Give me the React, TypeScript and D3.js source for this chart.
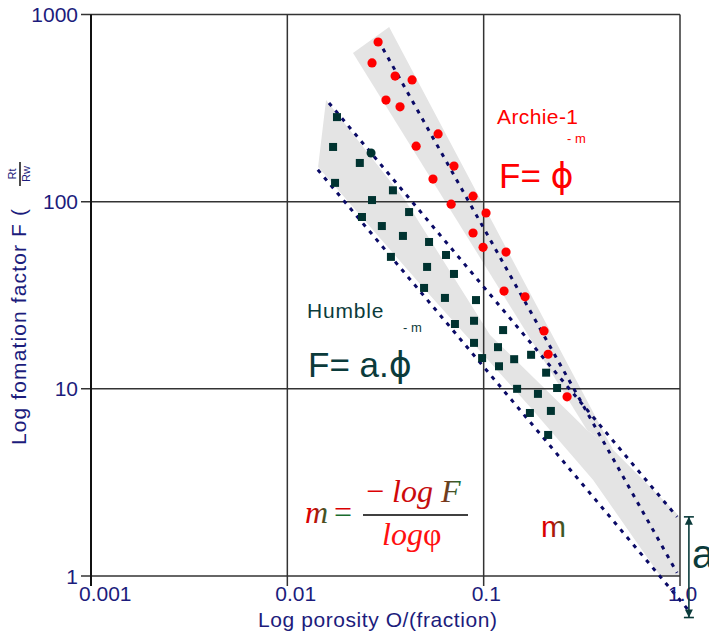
import React from 'react';
import * as d3 from 'd3';

// axis ticks
const xTicks = [0.001, 0.01, 0.1, 1];
const xTickLabels = ['0.001', '0.01', '0.1', '1.0'];
const yTicks = [1, 10, 100, 1000];
const yTickLabels = ['1', '10', '100', '1000'];

// Archie-1 samples (porosity fraction, formation factor)
const archiePhi = [0.029, 0.027, 0.0354, 0.0432, 0.0318, 0.0375, 0.0453, 0.0586, 0.0552, 0.0706, 0.0683,
  0.0883, 0.1028, 0.0883, 0.0993, 0.13, 0.127, 0.1625, 0.203, 0.213, 0.266];
const archieF = [713, 551, 469, 447, 349, 321, 198, 230, 132, 155, 97,
  107, 87, 68, 57, 53.8, 33.3, 31, 20.4, 15.3, 9.06];

// Humble samples
const humblePhi = [0.0179, 0.0171, 0.0234, 0.0175, 0.0345, 0.027, 0.0417, 0.024, 0.0303, 0.0388, 0.0527,
  0.0643, 0.0337, 0.0515, 0.0706, 0.0497, 0.0635, 0.0914, 0.0714, 0.0893, 0.0893, 0.1256, 0.1183,
  0.0982, 0.143, 0.1197, 0.1744, 0.208, 0.2366, 0.148, 0.189, 0.22, 0.172, 0.213];
const humbleF = [283, 196, 161, 126, 115, 102, 88, 82.8, 74.1, 65.6, 60.9,
  51.9, 50.7, 44.8, 41.1, 34.6, 30.6, 29.8, 22.2, 23.1, 17.6, 20.6, 16.7,
  14.6, 14.4, 13.2, 15.2, 12.2, 10.1, 10.0, 9.4, 7.62, 7.43, 5.67];
const humbleRoundPhi = [0.0267];
const humbleRoundF = [182];

// shaded envelopes
const archieBandPhi = [0.0216, 0.033, 0.456, 0.336];
const archieBandF = [623, 858, 4.72, 6.03];
const humbleBandPhi = [0.01575, 0.01434, 0.0503, 0.1723, 0.361, 0.792, 1, 1, 0.456, 0.336, 0.1078, 0.0398];
const humbleBandF = [349, 153, 33.8, 8.0, 3.26, 1, 1, 2.07, 4.72, 6.03, 19.4, 102];

// fitted trend lines
const archieLinePhi = [0.029, 0.966];
const archieLineF = [731, 1.04];
const humbleUpperPhi = [0.0163, 0.966];
const humbleUpperF = [337, 2.07];
const humbleLowerPhi = [0.0143, 1.1];
const humbleLowerF = [148, 0.66];

// the "a" intercept marker
const aPhi = 1.11;
const aRange = [2.07, 0.6];

const navy = '#1c1c7c';
const teal = '#0b3b3b';
const sans = '"Liberation Sans", Arial, sans-serif';
const phiFont = '"DejaVu Sans", "Liberation Sans", sans-serif';
const serif = '"Liberation Serif", "Times New Roman", serif';

const App = () => {
  const width = 709;
  const height = 635;
  const x = d3.scaleLog().domain([0.001, 1]).range([91, 680]);
  const y = d3.scaleLog().domain([1, 1000]).range([576, 14.5]);

  const line = d3.line<[number, number]>().x(d => x(d[0])).y(d => y(d[1]));
  const pts = (p: number[], f: number[]) => p.map((v, i) => [v, f[i]] as [number, number]);
  const poly = (p: number[], f: number[]) => p.map((v, i) => `${x(v)},${y(f[i])}`).join(' ');

  const trends = [
    pts(archieLinePhi, archieLineF),
    pts(humbleUpperPhi, humbleUpperF),
    pts(humbleLowerPhi, humbleLowerF),
  ];

  const ax = x(aPhi);
  const aTop = y(aRange[0]);
  const aBot = y(aRange[1]);

  return (
    <svg width={width} height={height} style={{ position: 'absolute', left: 0, top: 0, background: '#fff' }}>
      <defs>
        <linearGradient id="rg" x1="0" x2="1" y1="0" y2="0">
          <stop offset="0.35" stopColor="#d90000" />
          <stop offset="1" stopColor="#1c6b2c" />
        </linearGradient>
        <linearGradient id="rgv" x1="0" x2="0" y1="0" y2="1">
          <stop offset="0.45" stopColor="#d90000" />
          <stop offset="0.55" stopColor="#1c6b2c" />
        </linearGradient>
        <linearGradient id="num" x1="0" x2="1" y1="0" y2="0">
          <stop offset="0" stopColor="#e00000" />
          <stop offset="0.7" stopColor="#c01010" />
          <stop offset="1" stopColor="#1c6b2c" />
        </linearGradient>
      </defs>

      {/* shaded envelopes */}
      <polygon points={poly(humbleBandPhi, humbleBandF)} fill="#e4e4e4" />
      <polygon points={poly(archieBandPhi, archieBandF)} fill="#e4e4e4" />

      {/* grid */}
      {yTicks.map(t => (
        <line key={'h' + t} x1={81} x2={680} y1={y(t)} y2={y(t)} stroke="#333" strokeWidth={1.5} />
      ))}
      {xTicks.map(t => (
        <line key={'v' + t} x1={x(t)} x2={x(t)} y1={y(1000)} y2={586} stroke={t === 0.001 ? '#111' : '#333'}
          strokeWidth={t === 0.001 ? 2 : 1.5} />
      ))}

      {/* trend lines */}
      {trends.map((d, i) => (
        <path key={'t' + i} d={line(d) || ''} fill="none" stroke="#0a0a66" strokeWidth={3} strokeDasharray="4 6" />
      ))}

      {/* points */}
      {humblePhi.map((p, i) => (
        <rect key={'s' + i} x={x(p) - 4} y={y(humbleF[i]) - 4} width={8} height={8} fill="#003330" />
      ))}
      {humbleRoundPhi.map((p, i) => (
        <circle key={'c' + i} cx={x(p)} cy={y(humbleRoundF[i])} r={4.5} fill="#003330" />
      ))}
      {archiePhi.map((p, i) => (
        <circle key={'r' + i} cx={x(p)} cy={y(archieF[i])} r={4.6} fill="#ff0000" />
      ))}

      {/* tick labels */}
      {yTicks.map((t, i) => (
        <text key={'yl' + t} x={78} y={y(t) + 7.5} textAnchor="end" fontFamily={sans} fontSize={21} fill={navy}>
          {yTickLabels[i]}
        </text>
      ))}
      {xTicks.map((t, i) => (
        <text key={'xl' + t} x={x(t) - 12} y={601} fontFamily={sans} fontSize={21} fill={navy}>
          {xTickLabels[i]}
        </text>
      ))}

      {/* axis titles */}
      <text x={258} y={627} fontFamily={sans} fontSize={21} fill={navy} textLength={239} lengthAdjust="spacing">
        Log porosity O/(fraction)
      </text>
      <g transform="translate(26,445) rotate(-90)">
        <text x={0} y={0} fontFamily={sans} fontSize={21} fill={navy} textLength={236} lengthAdjust="spacing">
          Log fomation factor F (
        </text>
        <text x={271} y={-10} fontFamily={sans} fontSize={11} fill={navy} textAnchor="middle">Rt</text>
        <line x1={259} x2={283} y1={-6} y2={-6} stroke="#111" strokeWidth={1.5} />
        <text x={271} y={4} fontFamily={sans} fontSize={11} fill={navy} textAnchor="middle">Rw</text>
      </g>

      {/* Archie annotation */}
      <text x={497} y={124} fontFamily={sans} fontSize={21} fill="#ff0000" letterSpacing={0.4}>Archie-1</text>
      <text x={567} y={143} fontFamily={sans} fontSize={13} fill="#ff0000">- m</text>
      <text x={499} y={188} fontFamily={sans} fontSize={35} fill="#ff0000">
        F= <tspan fontFamily={phiFont}>ϕ</tspan>
      </text>

      {/* Humble annotation */}
      <text x={307} y={318} fontFamily={sans} fontSize={21} fill={teal} letterSpacing={0.8}>Humble</text>
      <text x={403} y={332} fontFamily={sans} fontSize={13} fill={teal}>- m</text>
      <text x={308} y={377} fontFamily={sans} fontSize={35} fill={teal}>
        F= a.<tspan fontFamily={phiFont}>ϕ</tspan>
      </text>

      {/* m formula */}
      <text x={305} y={523} fontFamily={serif} fontStyle="italic" fontSize={32} fill="url(#rg)">m</text>
      <text x={334} y={523} fontFamily={serif} fontSize={32} fill="url(#rgv)">=</text>
      <text x={366} y={502} fontFamily={serif} fontStyle="italic" fontSize={32} fill="url(#num)">
        <tspan fontStyle="normal">−</tspan> log F
      </text>
      <line x1={363} x2={468} y1={515} y2={515} stroke="#000" strokeWidth={1.5} />
      <text x={382} y={545} fontFamily={serif} fontSize={32} fill="#ff1010">
        <tspan fontStyle="italic">log</tspan>φ
      </text>

      <text x={541} y={537} fontFamily={sans} fontSize={30} fill="url(#rg)">m</text>

      {/* "a" intercept arrow */}
      <line x1={ax} x2={ax} y1={aTop} y2={aBot} stroke={teal} strokeWidth={1.6} />
      <line x1={ax - 5} x2={ax + 5} y1={aTop} y2={aTop} stroke={teal} strokeWidth={1.6} />
      <line x1={ax - 5} x2={ax + 5} y1={aBot} y2={aBot} stroke={teal} strokeWidth={1.6} />
      <path d={`M${ax},${aTop}L${ax - 4},${aTop + 8}L${ax + 4},${aTop + 8}Z`} fill={teal} />
      <path d={`M${ax},${aBot}L${ax - 4},${aBot - 8}L${ax + 4},${aBot - 8}Z`} fill={teal} />
      <text x={692} y={568} fontFamily={sans} fontSize={40} fill={teal}>a</text>
    </svg>
  );
};

export default App;
